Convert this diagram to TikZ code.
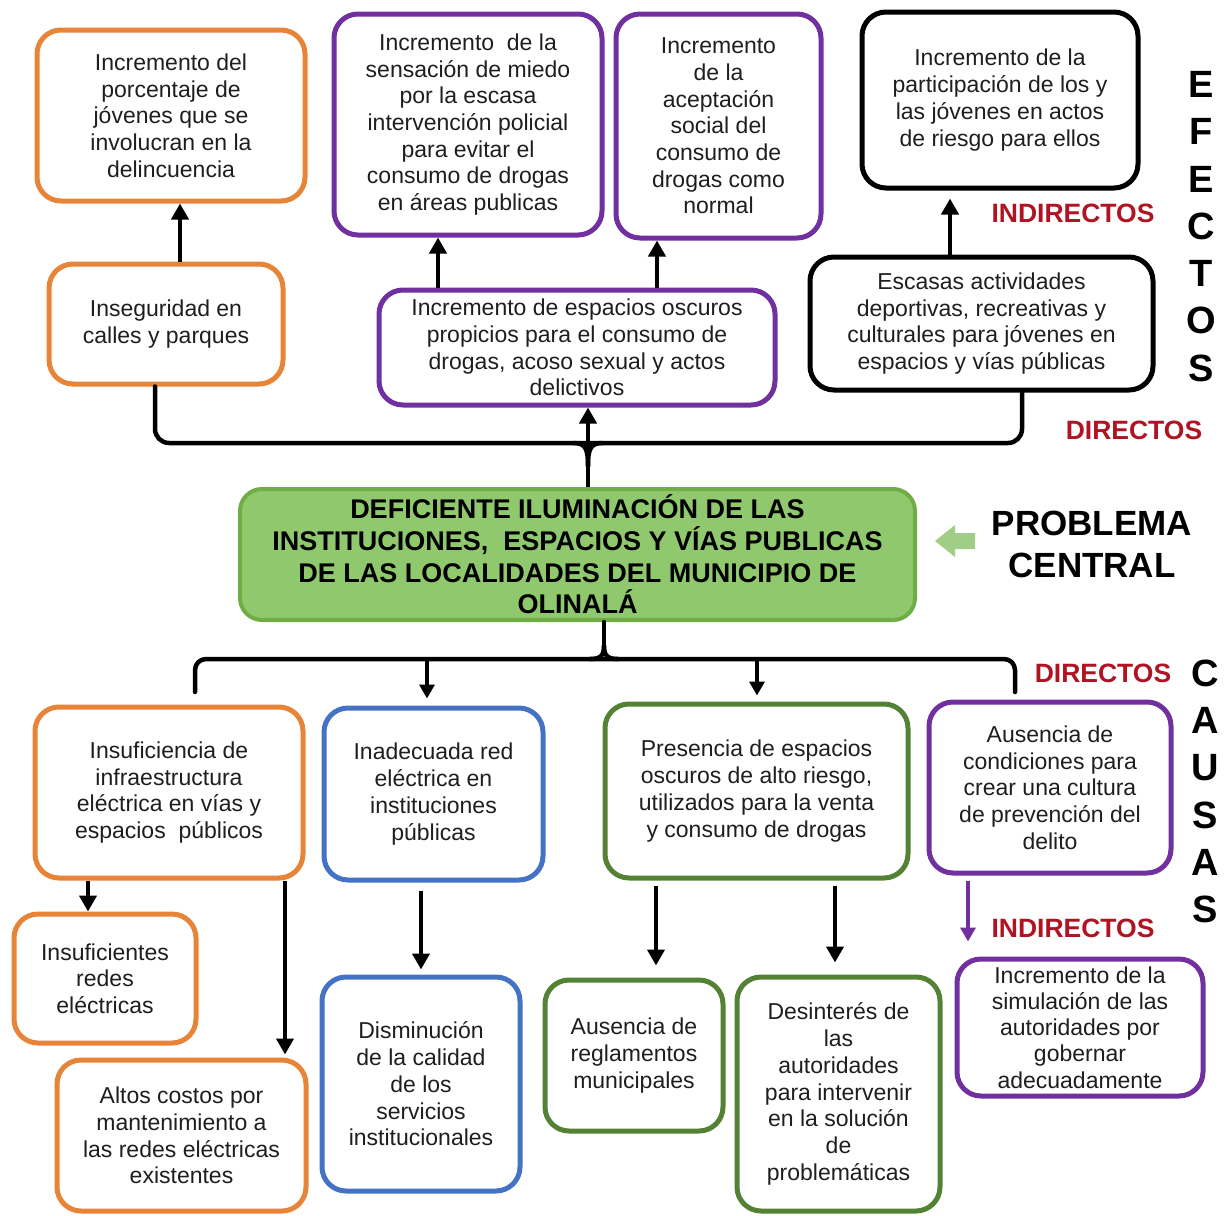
\documentclass[tikz,border=0pt]{standalone}
\usepackage{fontspec}
\setmainfont{Liberation Sans}
\usetikzlibrary{arrows.meta}
\definecolor{corange}{RGB}{232,132,56}
\definecolor{cpurple}{RGB}{112,48,160}
\definecolor{cblue}{RGB}{68,114,196}
\definecolor{cgreen}{RGB}{84,130,53}
\definecolor{cgfill}{RGB}{144,200,110}
\definecolor{cgline}{RGB}{112,173,71}
\definecolor{cltgreen}{RGB}{160,206,134}
\definecolor{cred}{RGB}{176,20,34}
\definecolor{ctxt}{RGB}{30,30,30}
\begin{document}
\begin{tikzpicture}[x=1pt,y=-1pt,
  bx/.style={draw, rounded corners=24pt, line width=5pt, align=center, inner sep=0pt,
    text=ctxt, font=\fontsize{23}{26.7}\selectfont},
  arr/.style={line width=4.5pt, -{Triangle[length=16pt,width=17pt]}},
  arrs/.style={line width=4pt, -{Triangle[length=14pt,width=15pt]}},
  brc/.style={line width=4.5pt, line cap=round, line join=round},
  redlbl/.style={text=cred, font=\bfseries\fontsize{26.5}{30}\selectfont, inner sep=0pt},
  biglet/.style={align=center, inner sep=0pt, text=black, font=\bfseries\fontsize{38}{47.3}\selectfont}
]
\useasboundingbox (0,0) rectangle (1227,1216);

% ---------- EFECTOS ----------
\node[bx, draw=corange, minimum width=268, minimum height=171] (b1) at (171,115.5)
  {Incremento del\\porcentaje de\\jóvenes que se\\involucran en la\\delincuencia};
\node[bx, draw=cpurple, minimum width=268, minimum height=221] (b2) at (468,124.5)
  {Incremento\ \ de la\\sensación de miedo\\por la escasa\\intervención policial\\para evitar el\\consumo de drogas\\en áreas publicas};
\node[bx, draw=cpurple, minimum width=205, minimum height=224] (b3) at (718.5,126)
  {Incremento\\de la\\aceptación\\social del\\consumo de\\drogas como\\normal};
\node[bx, draw=black, minimum width=276, minimum height=176] (b4) at (1000,100)
  {Incremento de la\\participación de los y\\las jóvenes en actos\\de riesgo para ellos};
\node[bx, draw=corange, minimum width=234, minimum height=120] (b5) at (166,324)
  {Inseguridad en\\calles y parques};
\node[bx, draw=cpurple, minimum width=396, minimum height=115] (b6) at (577,347.5)
  {Incremento de espacios oscuros\\propicios para el consumo de\\drogas, acoso sexual y actos\\delictivos};
\node[bx, draw=black, minimum width=343, minimum height=133] (b7) at (981.5,323.5)
  {Escasas actividades\\deportivas, recreativas y\\culturales para jóvenes en\\espacios y vías públicas};

\node[biglet] (efe) at (1201,226.5) {E\\F\\E\\C\\T\\O\\S};
\node[redlbl] (ind1) at (1073,213) {INDIRECTOS};
\node[redlbl] (dir1) at (1134,430) {DIRECTOS};

% ---------- PROBLEMA CENTRAL ----------
\node[draw=cgline, fill=cgfill, rounded corners=22pt, line width=4pt, align=center,
  inner sep=0pt, minimum width=675, minimum height=131, text=black,
  font=\bfseries\fontsize{27}{31.7}\selectfont] (g) at (577.5,554.5)
  {DEFICIENTE ILUMINACIÓN DE LAS\\INSTITUCIONES,\ \ ESPACIOS Y VÍAS PUBLICAS\\DE LAS LOCALIDADES DEL MUNICIPIO DE\\OLINALÁ};
\fill[cltgreen] (935,541) -- (955,525) -- (955,533) -- (975,533) -- (975,549)
  -- (955,549) -- (955,557) -- cycle;
\node[align=center, inner sep=0pt, text=black, font=\bfseries\fontsize{35}{42}\selectfont]
  (pc) at (1092,544) {PROBLEMA\\CENTRAL};

% ---------- CAUSAS ----------
\node[bx, draw=corange, minimum width=268, minimum height=171] (c1) at (169,792.5)
  {Insuficiencia de\\infraestructura\\eléctrica en vías y\\espacios\ \ públicos};
\node[bx, draw=cblue, minimum width=219, minimum height=172] (c2) at (433.5,794)
  {Inadecuada red\\eléctrica en\\instituciones\\públicas};
\node[bx, draw=cgreen, minimum width=303, minimum height=174] (c3) at (756.5,791)
  {Presencia de espacios\\oscuros de alto riesgo,\\utilizados para la venta\\y consumo de drogas};
\node[bx, draw=cpurple, minimum width=242, minimum height=171] (c4) at (1050,787.5)
  {Ausencia de\\condiciones para\\crear una cultura\\de prevención del\\delito};
\node[bx, draw=corange, minimum width=182, minimum height=129] (d1) at (105,978.5)
  {Insuficientes\\redes\\eléctricas};
\node[bx, draw=corange, minimum width=249, minimum height=151] (d2) at (181.5,1135.5)
  {Altos costos por\\mantenimiento a\\las redes eléctricas\\existentes};
\node[bx, draw=cblue, minimum width=198, minimum height=214] (d3) at (421,1084)
  {Disminución\\de la calidad\\de los\\servicios\\institucionales};
\node[bx, draw=cgreen, minimum width=178, minimum height=151] (d4) at (634,1055.5)
  {Ausencia de\\reglamentos\\municipales};
\node[bx, draw=cgreen, minimum width=203, minimum height=234] (d5) at (838.5,1094)
  {Desinterés de\\las\\autoridades\\para intervenir\\en la solución\\de\\problemáticas};
\node[bx, draw=cpurple, minimum width=246, minimum height=137,
  font=\fontsize{23}{26.2}\selectfont] (d6) at (1080,1027.5)
  {Incremento de la\\simulación de las\\autoridades por\\gobernar\\adecuadamente};

\node[biglet] (cau) at (1205,791.5) {C\\A\\U\\S\\A\\S};
\node[redlbl] (dir2) at (1103,673) {DIRECTOS};
\node[redlbl] (ind2) at (1073,928) {INDIRECTOS};

% ---------- connector x positions ----------
\coordinate (xa) at (180,0);
\coordinate (xb) at (438,0);
\coordinate (xc) at (657,0);
\coordinate (xd) at (950,0);
\coordinate (xe) at (588,0);
\coordinate (xf) at (88,0);
\coordinate (xg) at (285,0);
\coordinate (xh) at (421,0);
\coordinate (xi) at (656,0);
\coordinate (xj) at (835,0);
\coordinate (xk) at (968,0);

% ---------- effect arrows ----------
\draw[arr] (b5.north -| xa) -- (b1.south -| xa);
\draw[arr] (b6.north -| xb) -- (b2.south -| xb);
\draw[arr] (b6.north -| xc) -- (b3.south -| xc);
\draw[arr, shorten >=8pt] (b7.north -| xd) -- (b4.south -| xd);

% top brace
\coordinate (tl) at (155,443);
\coordinate (tr) at (1022,443);
\draw[brc, rounded corners=14pt] (b5.south -| tl) -- (tl) -- (tr) -- (b7.south -| tr);
\coordinate (tcl) at (574,443);
\coordinate (tcr) at (602,443);
\coordinate (tcd) at (588,466);
\draw[brc] (tcl) .. controls (586,443) and (588,450) .. (tcd);
\draw[brc] (tcr) .. controls (590,443) and (588,450) .. (tcd);
\draw[arr] (g.north -| xe) -- (b6.south -| xe);

% bottom brace
\coordinate (bl) at (195,659);
\coordinate (br) at (1015,659);
\coordinate (bld) at (195,692);
\coordinate (brd) at (1015,692);
\coordinate (bcl) at (590,659);
\coordinate (bcr) at (618,659);
\coordinate (bcu) at (604,646);
\draw[brc, rounded corners=11pt] (bld) -- (bl) -- (br) -- (brd);
\draw[brc] (bcl) .. controls (600,659) and (604,656) .. (bcu);
\draw[brc] (bcr) .. controls (608,659) and (604,656) .. (bcu);
\draw[brc] (g.south -| bcu) -- (bcu);

\coordinate (s1) at (427,659);
\coordinate (s2) at (757,659);
\draw[arrs, shorten >=7pt] (s1) -- (c2.north -| s1);
\draw[arrs, shorten >=6pt] (s2) -- (c3.north -| s2);

% ---------- cause arrows ----------
\draw[arr] (c1.south -| xf) -- (d1.north -| xf);
\draw[arr, shorten >=3pt] (c1.south -| xg) -- (d2.north -| xg);
\draw[arr, shorten <=8pt, shorten >=5pt] (c2.south -| xh) -- (d3.north -| xh);
\draw[arr, shorten <=5pt, shorten >=12pt] (c3.south -| xi) -- (d4.north -| xi);
\draw[arr, shorten <=5pt, shorten >=12pt] (c3.south -| xj) -- (d5.north -| xj);
\draw[cpurple, line width=4pt, -{Triangle[length=14pt,width=15pt]}, shorten <=5pt, shorten >=15pt]
  (c4.south -| xk) -- (d6.north -| xk);
\end{tikzpicture}
\end{document}
